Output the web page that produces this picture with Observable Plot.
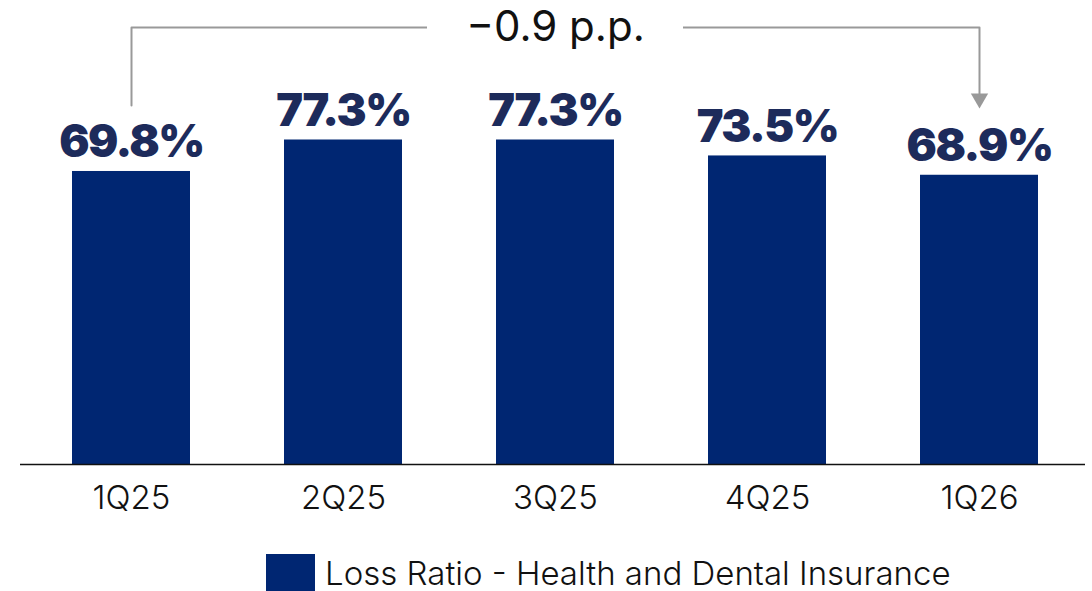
<!DOCTYPE html>
<html>
<head>
<meta charset="utf-8">
<script src="https://cdn.jsdelivr.net/npm/d3@7"></script>
<script src="https://cdn.jsdelivr.net/npm/@observablehq/plot@0.6"></script>
<style>
  html, body { margin: 0; padding: 0; background: #fff; }
  #chart { width: 1092px; height: 591px; position: relative; font-family: Inter, "Noto Sans", sans-serif; }
  #legend { position: absolute; left: 266px; top: 554px; display: flex; align-items: center; height: 37px; }
  #legend .sw { width: 49px; height: 37px; background: #002672; }
  #legend .lb { margin-left: 10px; font-size: 33px; color: #111; font-weight: 300; white-space: nowrap; }
  .vlabel text { letter-spacing: -1.5px; }
  .xax text { font-weight: 300; }
</style>
</head>
<body>
<div id="chart"></div>
<script>
const quarters = ["1Q25", "2Q25", "3Q25", "4Q25", "1Q26"];
const lossRatio = [69.8, 77.3, 77.3, 73.5, 68.9];
const valueLabels = ["69.8%", "77.3%", "77.3%", "73.5%", "68.9%"];
const seriesName = "Loss Ratio - Health and Dental Insurance";
const changeLabel = "\u22120.9 p.p.";
const bracketFrom = "1Q25";
const bracketTo = "1Q26";
const bracketMid = "3Q25";

const data = quarters.map((q, i) => ({q, v: lossRatio[i], label: valueLabels[i]}));

const barColor = "#002672";
const labelColor = "#1d2b5b";
const grey = "#999999";

const topVal = 104.1;
const bracketPath = [
  {q: bracketFrom, v: 85.5},
  {q: bracketFrom, v: topVal},
  {q: bracketTo, v: topVal},
  {q: bracketTo, v: 88}
];

const chart = Plot.plot({
  width: 1092,
  height: 540,
  marginLeft: 25,
  marginRight: 7,
  marginTop: 44.2,
  marginBottom: 76,
  style: {fontFamily: "Inter, 'Noto Sans', sans-serif", background: "transparent"},
  x: {domain: quarters, paddingInner: 0.443, paddingOuter: 0.2215, label: null},
  y: {domain: [0, 100], axis: null},
  marks: [
    Plot.barY(data, {x: "q", y: "v", fill: barColor}),
    Plot.ruleY([0], {stroke: "#111", strokeWidth: 1.5, insetLeft: -5}),
    Plot.axisX({tickSize: 0, tickPadding: 21, fontSize: 33, fill: "#111", className: "xax"}),
    Plot.text(data, {x: "q", y: "v", text: "label", dy: -14, lineAnchor: "bottom", fontSize: 45, fontWeight: 900, fill: labelColor, className: "vlabel"}),
    Plot.line(bracketPath, {x: "q", y: "v", stroke: grey, strokeWidth: 2, curve: "linear"}),
    Plot.barY([bracketMid], {x: d => d, y1: topVal - 2, y2: topVal + 2, fill: "white", insetLeft: -69, insetRight: -69}),
    Plot.dot([bracketTo], {x: d => d, y: 87.2, symbol: "triangle", r: 6.43, rotate: 180, fill: grey, stroke: "none"}),
    Plot.text([changeLabel], {x: () => bracketMid, y: topVal, text: d => d, fontSize: 42, fill: "#111", lineAnchor: "middle", fontWeight: 400})
  ]
});

const root = document.getElementById("chart");
root.appendChild(chart);
const legend = document.createElement("div");
legend.id = "legend";
legend.innerHTML = `<div class="sw"></div><div class="lb"></div>`;
legend.querySelector(".lb").textContent = seriesName;
root.appendChild(legend);
</script>
</body>
</html>
